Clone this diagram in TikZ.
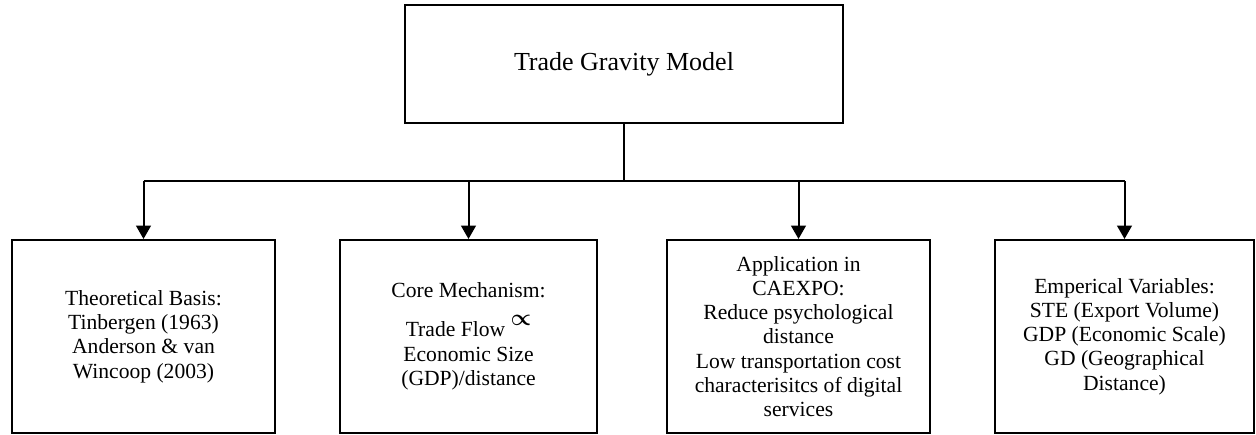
\documentclass[tikz,border=0pt]{standalone}
\usepackage{fontspec}
\setmainfont{Liberation Serif}
\usepackage{amsmath}
\usetikzlibrary{arrows.meta}

\begin{document}
\begin{tikzpicture}[x=0.75pt,y=-0.75pt,
    box/.style={draw, line width=1.5pt, align=center, inner sep=0pt,
                font=\fontsize{16.2}{18.2}\selectfont},
    lowbox/.style={box, minimum height=144.75pt},
    link/.style={line width=1.5pt},
    arr/.style={link, -{Triangle[width=11pt,length=10pt]}}]

    \useasboundingbox (0,0) rectangle (1256,435);

    \node[box, minimum width=328.5pt, minimum height=88.5pt,
          font=\fontsize{19.5}{22}\selectfont] (model) at (624,64) {Trade Gravity Model};

    \node[lowbox, minimum width=197.25pt] (theory) at (143.5,336.5)
        {Theoretical Basis:\\ Tinbergen (1963)\\ Anderson \& van\\ Wincoop (2003)};
    \node[lowbox, minimum width=192.75pt] (core) at (468.5,336.5)
        {Core Mechanism:\\[11pt] Trade Flow \raisebox{1.1ex}{$\boldsymbol{\propto}$}\\ Economic Size\\ (GDP)/distance};
    \node[lowbox, minimum width=197.25pt] (caexpo) at (798.5,336.5)
        {Application in\\ CAEXPO:\\ Reduce psychological\\ distance\\ Low transportation cost\\ characterisitcs of digital\\ services};
    \node[lowbox, minimum width=194.25pt] (vars) at (1124.5,336.5)
        {Emperical Variables:\\ STE (Export Volume)\\ GDP (Economic Scale)\\ GD (Geographical\\ Distance)};

    \coordinate (bus) at (624,181);
    \draw[link] (model.south) -- (bus);
    \draw[link] (theory.north |- bus) -- (vars.north |- bus);
    \foreach \b in {theory, core, caexpo, vars}
        \draw[arr] (\b.north |- bus) -- (\b.north);

\end{tikzpicture}
\end{document}
